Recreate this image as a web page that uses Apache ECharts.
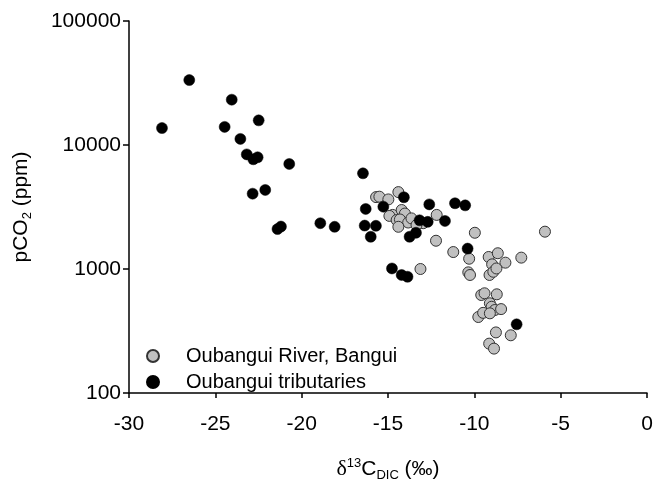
<!DOCTYPE html>
<html>
<head>
<meta charset="utf-8">
<script src="https://cdn.jsdelivr.net/npm/echarts@6/dist/echarts.min.js"></script>
<style>
  html, body { margin: 0; padding: 0; background: #fff; }
  #chart { width: 656px; height: 479px; }
</style>
</head>
<body>
<div id="chart"></div>
<script>
// δ13C-DIC (‰) against pCO2 (ppm), Oubangui main stem vs. tributaries
const seriesNames = ['Oubangui River, Bangui', 'Oubangui tributaries'];

// Oubangui River at Bangui
const riverD13C = [
  -15.69, -15.50, -14.98, -14.40, -14.73, -14.92, -14.21, -14.02, -14.50, -14.31,
  -13.83, -13.64, -14.40, -12.96, -13.35, -12.18, -12.22, -11.22, -13.12, -9.97,
  -5.91, -10.30, -9.17, -8.64, -8.20, -8.97, -7.28, -10.35, -10.25, -9.12,
  -8.90, -8.72, -9.60, -9.41, -8.70, -9.10, -9.00, -8.81, -8.45, -9.77,
  -9.49, -9.10, -8.75, -7.89, -9.14, -8.86
];
const riverPCO2 = [
  3800, 3830, 3640, 4170, 2730, 2680, 2990, 2800, 2480, 2510,
  2370, 2560, 2190, 2340, 2260, 2730, 1690, 1370, 1000, 1960,
  2000, 1210, 1250, 1340, 1125, 1090, 1235, 940, 895, 895,
  950, 1010, 617, 637, 625, 529, 496, 467, 475, 410,
  443, 439, 308, 292, 250, 228
];

// Tributaries
const tribD13C = [
  -26.51, -24.05, -28.09, -24.46, -22.49, -23.55, -23.18, -22.80, -22.55, -20.72,
  -22.84, -22.11, -21.40, -21.20, -18.92, -18.09, -16.45, -16.29, -15.27, -14.08,
  -12.61, -11.12, -10.53, -16.35, -15.70, -16.00, -13.17, -12.70, -11.70, -13.75,
  -13.38, -14.77, -14.21, -13.87, -10.39, -7.55
];
const tribPCO2 = [
  33400, 23200, 13700, 14000, 15800, 11200, 8400, 7670, 7960, 7030,
  4050, 4340, 2100, 2200, 2340, 2190, 5910, 3050, 3180, 3790,
  3320, 3390, 3260, 2240, 2230, 1820, 2470, 2400, 2440, 1820,
  1960, 1010, 895, 866, 1460, 358
];

const xTicks = [-30, -25, -20, -15, -10, -5, 0];
const yTicks = [100, 1000, 10000, 100000];

const pairs = (xs, ys) => xs.map((x, i) => [x, ys[i]]);

const FONT = 'Liberation Sans, Arial, sans-serif';
const chart = echarts.init(document.getElementById('chart'), null, { renderer: 'canvas' });

chart.setOption({
  backgroundColor: '#ffffff',
  animation: false,
  textStyle: { fontFamily: FONT, color: '#000' },
  grid: { left: 129, right: 9, top: 21, bottom: 86, containLabel: false, outerBoundsMode: 'none' },
  legend: {
    orient: 'vertical',
    left: 141,
    top: 341,
    padding: 5,
    itemGap: 6,
    itemWidth: 12,
    itemHeight: 12,
    textStyle: { fontFamily: FONT, fontSize: 20, color: '#000', padding: [0, 0, 0, 22] },
    data: seriesNames
  },
  xAxis: {
    type: 'value',
    min: xTicks[0],
    max: xTicks[xTicks.length - 1],
    interval: 5,
    splitLine: { show: false },
    axisLine: { onZero: false, lineStyle: { color: '#000', width: 1.5 } },
    axisTick: { length: 5, lineStyle: { color: '#000', width: 1.5 } },
    axisLabel: { fontSize: 21, color: '#000', margin: 21, fontFamily: FONT },
    name: '{d|δ}{sup|13}C{sub|DIC} (‰)',
    nameLocation: 'middle',
    nameGap: 64,
    nameTextStyle: {
      fontSize: 21, color: '#000', fontFamily: FONT,
      rich: {
        d: { fontSize: 22, fontFamily: 'Liberation Serif, serif', color: '#000' },
        sup: { fontSize: 13, color: '#000', padding: [0, 0, 12, 0] },
        sub: { fontSize: 13, color: '#000', padding: [12, 0, 0, 0] }
      }
    }
  },
  yAxis: {
    type: 'log',
    logBase: 10,
    min: yTicks[0],
    max: yTicks[yTicks.length - 1],
    splitLine: { show: false },
    minorTick: { show: false },
    axisLine: { onZero: false, lineStyle: { color: '#000', width: 1.5 } },
    axisTick: { length: 6, lineStyle: { color: '#000', width: 1.5 } },
    axisLabel: {
      fontSize: 21, color: '#000', margin: 8, fontFamily: FONT,
      formatter: v => String(Math.round(v))
    },
    name: 'pCO{sub|2} (ppm)',
    nameLocation: 'middle',
    nameRotate: 90,
    nameGap: 95,
    nameTextStyle: {
      fontSize: 21, color: '#000', fontFamily: FONT,
      rich: {
        sub: { fontSize: 13, color: '#000', padding: [12, 0, 0, 0] }
      }
    }
  },
  series: [
    {
      name: seriesNames[0],
      type: 'scatter',
      symbol: 'circle',
      symbolSize: 11,
      itemStyle: { color: '#c0c0c0', borderColor: '#333', borderWidth: 1, opacity: 1 },
      data: pairs(riverD13C, riverPCO2)
    },
    {
      name: seriesNames[1],
      type: 'scatter',
      symbol: 'circle',
      symbolSize: 11,
      itemStyle: { color: '#000', borderColor: '#000', borderWidth: 0.5, opacity: 1 },
      data: pairs(tribD13C, tribPCO2)
    }
  ]
});
</script>
</body>
</html>
